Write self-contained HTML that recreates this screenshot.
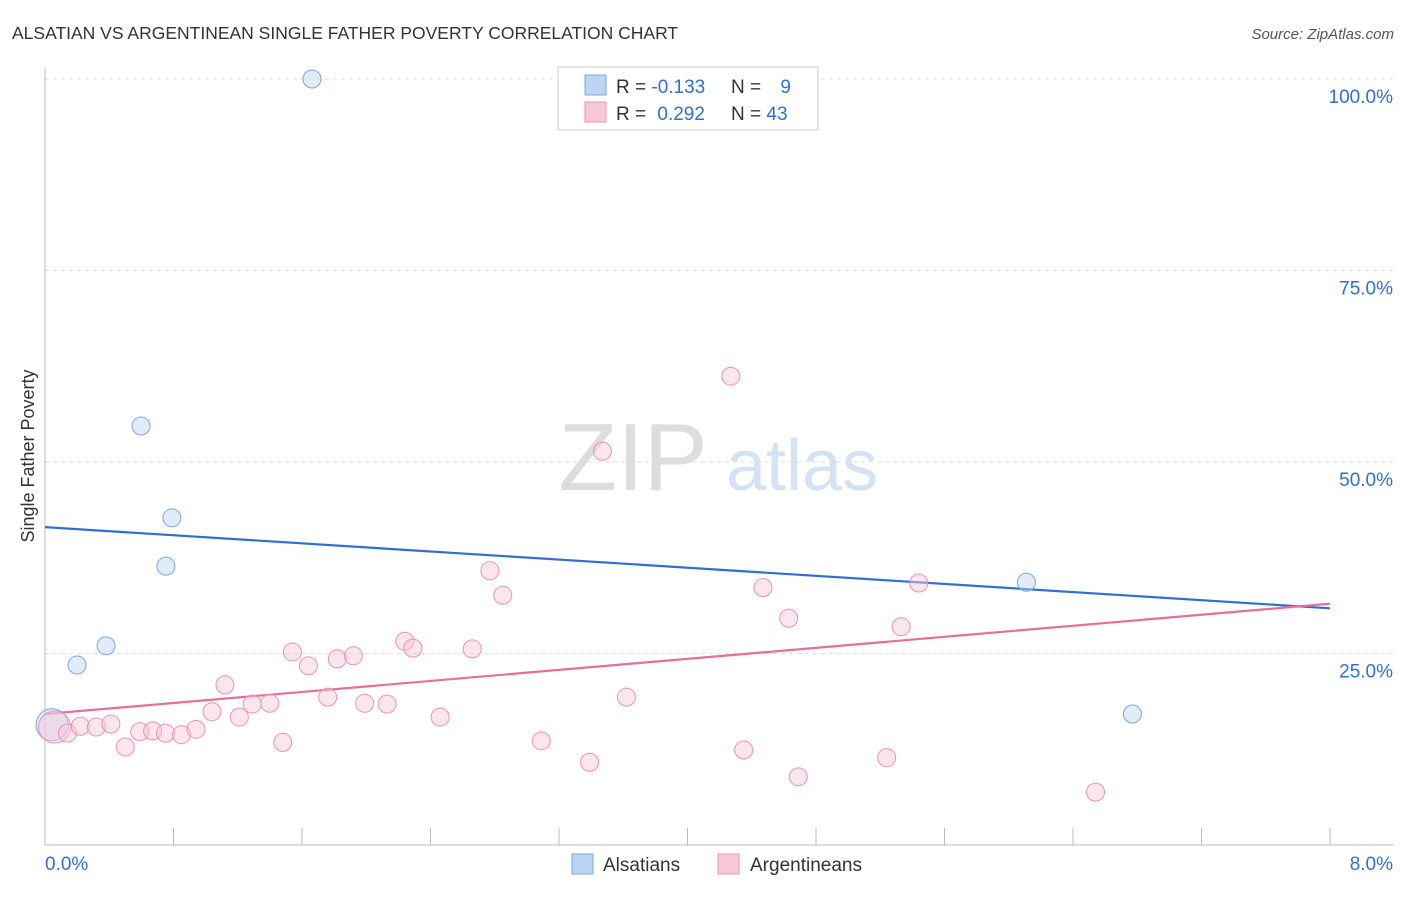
<!DOCTYPE html>
<html><head><meta charset="utf-8"><style>
body{margin:0;background:#fff;font-family:"Liberation Sans",sans-serif;}
svg text{font-family:"Liberation Sans",sans-serif;}
</style></head><body>
<svg id="c" width="1406" height="892" xmlns="http://www.w3.org/2000/svg">
<text x="12" y="39" font-size="17.5" fill="#333">ALSATIAN VS ARGENTINEAN SINGLE FATHER POVERTY CORRELATION CHART</text>
<text x="1394" y="39" font-size="15" fill="#555" font-style="italic" text-anchor="end">Source: ZipAtlas.com</text>
<text x="0" y="0" transform="translate(34,456) rotate(-90)" font-size="18" fill="#333" text-anchor="middle">Single Father Poverty</text>
<g><text x="633" y="490" font-size="96" fill="#ddd" font-family="Liberation Serif" text-anchor="middle">ZIP</text><text x="802" y="490" font-size="72" fill="#d3e2f5" text-anchor="middle">atlas</text></g>
<g id="grid"></g><g id="axes"></g><g id="lines"></g><g id="pts"></g>
<g>
<rect x="558" y="67" width="260" height="63" fill="#fff" stroke="#ccc"/>
<rect x="585" y="75" width="21" height="20" fill="#bcd5f5" stroke="#7aa7e0"/>
<rect x="585" y="102" width="21" height="20" fill="#f9c8d7" stroke="#eb93ae"/>
<text x="616" y="93" font-size="19" fill="#333">R = <tspan fill="#2f6fd4">-0.133</tspan></text>
<text x="731" y="93" font-size="19" fill="#333">N = <tspan fill="#2f6fd4" dx="14">9</tspan></text>
<text x="616" y="120" font-size="19" fill="#333">R = <tspan fill="#2f6fd4" dx="6">0.292</tspan></text>
<text x="731" y="120" font-size="19" fill="#333">N = <tspan fill="#2f6fd4">43</tspan></text>
</g>
<g>
<rect x="572" y="854" width="21" height="20" fill="#bcd5f5" stroke="#7aa7e0"/>
<text x="603" y="871" font-size="19" fill="#333">Alsatians</text>
<rect x="718" y="854" width="21" height="20" fill="#f9c8d7" stroke="#eb93ae"/>
<text x="750" y="871" font-size="19" fill="#333">Argentineans</text>
</g>
</svg>
<script>
const yTicks=[25,50,75,100];
const yTickLabels=["25.0%","50.0%","75.0%","100.0%"];
const xTickLabels=["0.0%","8.0%"];
const blueX=[1.662,0.598,0.79,0.753,0.38,0.2,0.044,6.11,6.77];
const blueY=[100,54.7,42.7,36.4,26.0,23.5,15.7,34.3,17.1];
const pinkX=[0.06,0.14,0.22,0.32,0.41,0.50,0.59,0.67,0.75,0.85,0.94,1.04,1.12,1.21,1.29,1.40,1.48,1.54,1.64,1.76,1.82,1.92,1.99,2.13,2.24,2.29,2.46,2.66,2.77,2.85,3.09,3.39,3.47,3.62,4.27,4.35,4.47,4.63,4.69,5.24,5.33,5.44,6.54];
const pinkY=[15.4,14.6,15.5,15.4,15.8,12.8,14.8,14.9,14.6,14.4,15.1,17.4,20.9,16.7,18.4,18.5,13.4,25.2,23.4,19.3,24.3,24.7,18.5,18.4,26.6,25.7,16.7,25.6,35.8,32.6,13.6,10.8,51.4,19.3,61.2,12.4,33.6,29.6,8.9,11.4,28.5,34.2,6.9];
const blueTrend=[41.5,30.9];
const pinkTrend=[17.1,31.5];
const X=v=>45+v/8*1285, Y=v=>845-v/100*766;
const NS="http://www.w3.org/2000/svg";
function mk(p,t,a){const e=document.createElementNS(NS,t);for(const k in a)e.setAttribute(k,a[k]);document.getElementById(p).appendChild(e);return e;}
yTicks.forEach((t,i)=>{
 const l=mk('grid','line',{x1:45,x2:1394,y1:Y(t),y2:Y(t),stroke:'#ddd','stroke-dasharray':'4,4'});
 
 
 const tx=mk('grid','text',{x:1393,y:Y(t)+24,'font-size':19,fill:'#2f6fd4','text-anchor':'end'});
 tx.textContent=yTickLabels[i];
 
 
});
let a=mk('axes','line',{x1:45,x2:45,y1:68,y2:845,stroke:'#bbb'});


a=mk('axes','line',{x1:45,x2:1394,y1:845,y2:845,stroke:'#bbb'});


for(let i=0;i<=10;i++){const t=mk('axes','line',{x1:X(i*0.8),x2:X(i*0.8),y1:828,y2:845,stroke:'#bbb'});
 
 }
[[0,'start',45],[8,'end',1393]].forEach((d,i)=>{const t=mk('axes','text',{x:d[2],y:870,'font-size':19,fill:'#2f6fd4','text-anchor':d[1]});t.textContent=xTickLabels[i];
 
 });
function pts(xs,ys,fill,stroke,name){xs.forEach((x,i)=>{const r=(x<0.1)?16:9;
 const c=mk('pts','circle',{cx:X(x),cy:Y(ys[i]),r:r,fill:fill,stroke:stroke,'fill-opacity':0.45});
 
 });}
pts(blueX,blueY,'#bcd5f5','#7aa7e0','alsatian-point');
pts(pinkX,pinkY,'#f9c8d7','#eb93ae','argentinean-point');
let tl=mk('lines','line',{x1:X(0),x2:X(8),y1:Y(blueTrend[0]),y2:Y(blueTrend[1]),stroke:'#2f6fd4','stroke-width':2.2});


tl=mk('lines','line',{x1:X(0),x2:X(8),y1:Y(pinkTrend[0]),y2:Y(pinkTrend[1]),stroke:'#e76e98','stroke-width':2.2});


</script>
</body></html>
